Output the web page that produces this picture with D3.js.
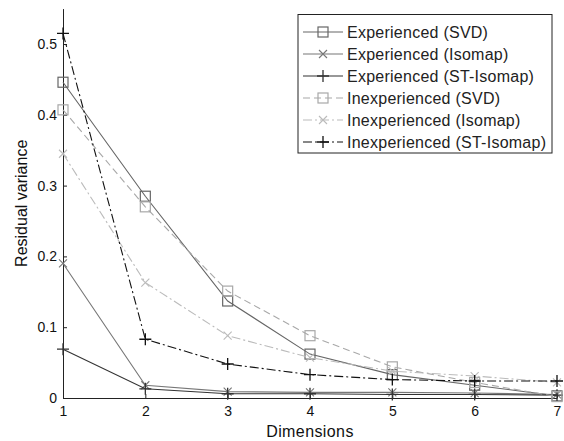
<!DOCTYPE html>
<html>
<head>
<meta charset="utf-8">
<script src="https://cdn.jsdelivr.net/npm/d3@7"></script>
<style>
  body { margin: 0; background: #fff; }
  text { font-family: "Liberation Sans", Arial, sans-serif; }
</style>
</head>
<body>
<div id="chart"></div>
<script>
// DATA
const dims = [1, 2, 3, 4, 5, 6, 7]
const yTicks = [0, 0.1, 0.2, 0.3, 0.4, 0.5]

const expSVD = [0.446, 0.285, 0.137, 0.062, 0.033, 0.018, 0.003]
const expIsomap = [0.19, 0.018, 0.009, 0.008, 0.008, 0.007, 0.005]
const expST = [0.069, 0.013, 0.006, 0.006, 0.005, 0.005, 0.004]
const inexpSVD = [0.407, 0.27, 0.151, 0.088, 0.044, 0.022, 0.002]
const inexpIsomap = [0.345, 0.163, 0.088, 0.057, 0.038, 0.031, 0.022]
const inexpST = [0.515, 0.083, 0.048, 0.033, 0.026, 0.024, 0.024]

const seriesNames = ["Experienced (SVD)", "Experienced (Isomap)", "Experienced (ST-Isomap)",
  "Inexperienced (SVD)", "Inexperienced (Isomap)", "Inexperienced (ST-Isomap)"]

const series = [
  { name: seriesNames[0], values: expSVD, color: "#666", dash: null, marker: "square" },
  { name: seriesNames[1], values: expIsomap, color: "#777", dash: null, marker: "x" },
  { name: seriesNames[2], values: expST, color: "#333", dash: null, marker: "plus" },
  { name: seriesNames[3], values: inexpSVD, color: "#a8a8a8", dash: "7,4", marker: "square" },
  { name: seriesNames[4], values: inexpIsomap, color: "#bbb", dash: "9,3,2,3", marker: "x" },
  { name: seriesNames[5], values: inexpST, color: "#111", dash: "9,3,2,3", marker: "plus" }
]

const width = 564, height = 441

const xScale = d3.scaleLinear().domain([1, 7]).range([63, 557])
const yScale = d3.scaleLinear().domain([0, 0.55]).range([398, 8.6])

const svg = d3.select("#chart").append("svg")
  .attr("width", width)
  .attr("height", height)

// AXES
svg.append("g")
  .attr("transform", `translate(0, ${yScale(0)})`)
  .call(d3.axisBottom(xScale).tickValues(dims).tickFormat(d3.format("d"))
    .tickSizeInner(-4).tickSizeOuter(0).tickPadding(8))
  .call(g => g.selectAll("text").attr("font-size", 14).attr("fill", "#111"))
  .call(g => g.selectAll("line, path").attr("stroke", "#222"))

svg.append("g")
  .attr("transform", `translate(${xScale(1)}, 0)`)
  .call(d3.axisLeft(yScale).tickValues(yTicks).tickFormat(d => d === 0 ? "0" : d3.format(".1f")(d))
    .tickSizeInner(-4).tickSizeOuter(0).tickPadding(6))
  .call(g => g.selectAll("text").attr("font-size", 14).attr("fill", "#111"))
  .call(g => g.selectAll("line, path").attr("stroke", "#222"))

svg.append("text")
  .attr("x", 310).attr("y", 437)
  .attr("text-anchor", "middle")
  .attr("font-size", 16)
  .attr("letter-spacing", 0.4)
  .attr("fill", "#111")
  .text("Dimensions")

svg.append("text")
  .attr("transform", `translate(27, ${yScale(0.275)}) rotate(-90)`)
  .attr("text-anchor", "middle")
  .attr("font-size", 16)
  .attr("fill", "#111")
  .text("Residual variance")

// MARKERS
function drawMarker(g, type, x, y, color) {
  const s = 5
  if (type === "square") {
    g.append("rect").attr("x", x - s).attr("y", y - s)
      .attr("width", 2 * s).attr("height", 2 * s)
      .attr("fill", "none").attr("stroke", color).attr("stroke-width", 1.2)
  } else if (type === "x") {
    g.append("path").attr("d", `M${x - 4},${y - 4}L${x + 4},${y + 4}M${x - 4},${y + 4}L${x + 4},${y - 4}`)
      .attr("stroke", color).attr("stroke-width", 1.1)
  } else {
    g.append("path").attr("d", `M${x - 6},${y}L${x + 6},${y}M${x},${y - 6}L${x},${y + 6}`)
      .attr("stroke", color).attr("stroke-width", 1.3)
  }
}

// LINES
const line = d3.line()
  .x((d, i) => xScale(dims[i]))
  .y(d => yScale(d))

series.forEach(s => {
  const g = svg.append("g")
  g.append("path")
    .attr("d", line(s.values))
    .attr("fill", "none")
    .attr("stroke", s.color)
    .attr("stroke-width", 1.1)
    .attr("stroke-dasharray", s.dash)
  s.values.forEach((v, i) => drawMarker(g, s.marker, xScale(dims[i]), yScale(v), s.color))
})

// LEGEND
const legend = svg.append("g")
legend.append("rect")
  .attr("x", 298).attr("y", 14.5)
  .attr("width", 254).attr("height", 138.5)
  .attr("fill", "#fff").attr("stroke", "#222")

series.forEach((s, i) => {
  const y = 32 + i * 22
  legend.append("path")
    .attr("d", `M303,${y}L343,${y}`)
    .attr("stroke", s.color).attr("stroke-width", 1.1)
    .attr("stroke-dasharray", s.dash)
  drawMarker(legend, s.marker, 323, y, s.color)
  legend.append("text")
    .attr("x", 347).attr("y", y + 6)
    .attr("font-size", 16)
    .attr("letter-spacing", 0.25)
    .attr("fill", "#222")
    .text(s.name)
})
</script>
</body>
</html>
